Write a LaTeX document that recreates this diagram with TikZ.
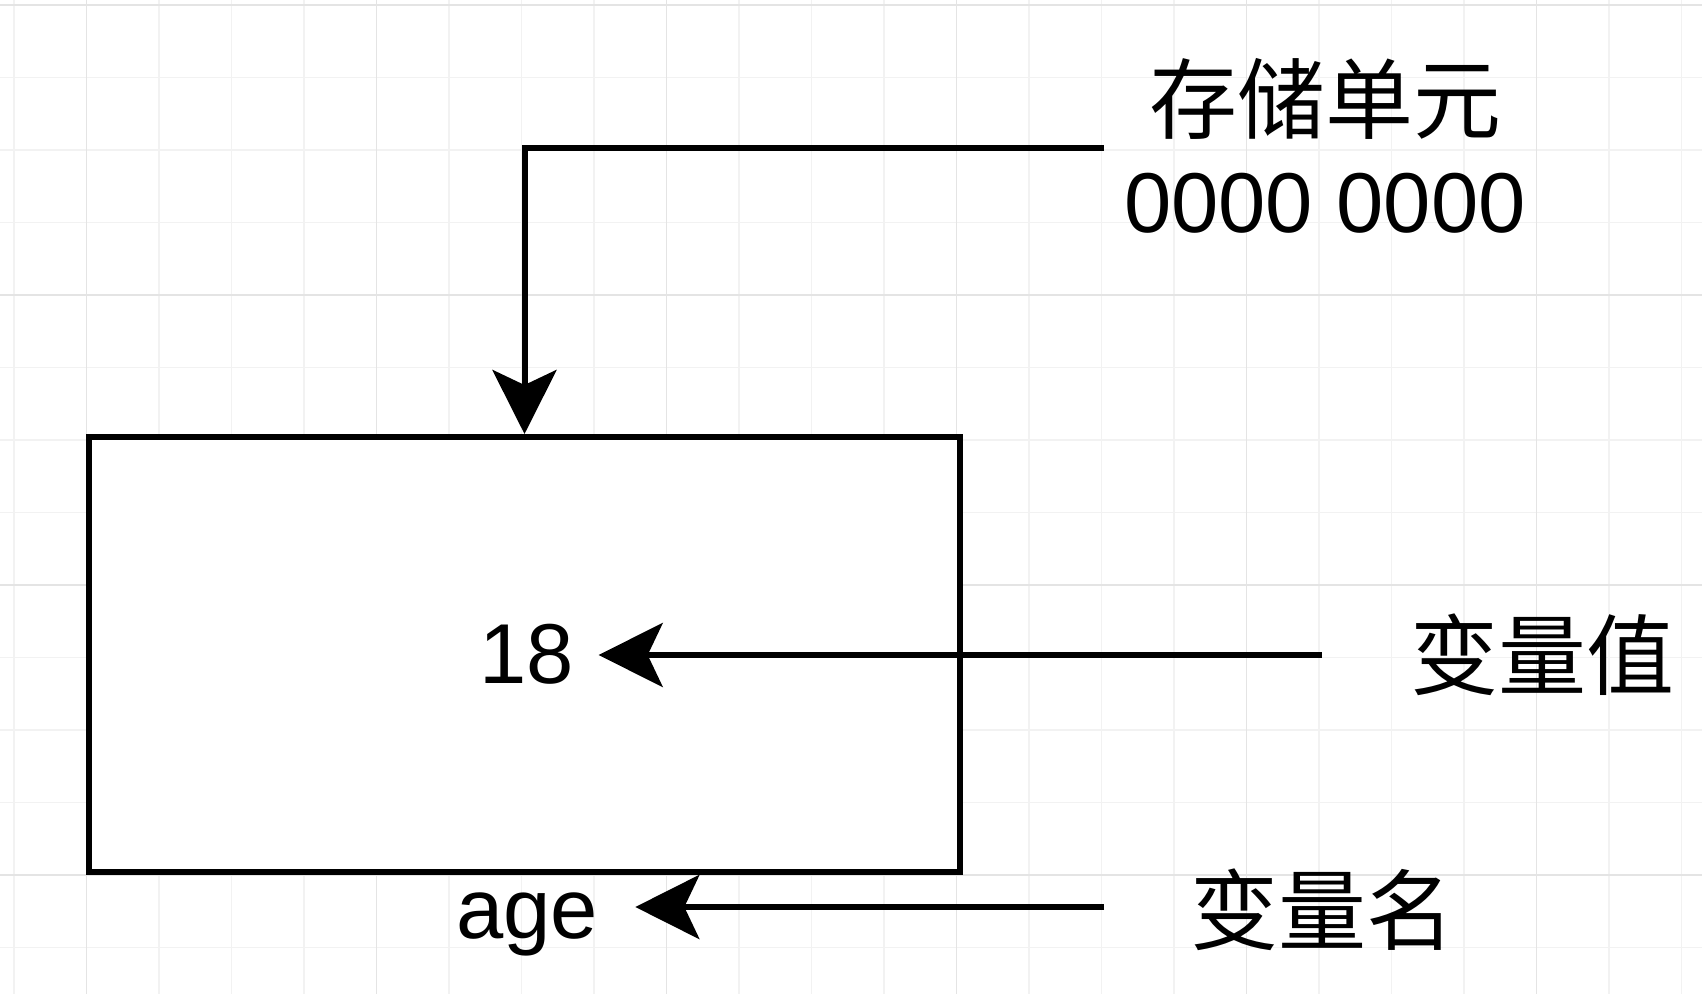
\documentclass[tikz,border=0pt]{standalone}
\usepackage{fontspec}
\setmainfont{Liberation Sans}
\newfontfamily\cjk{Noto Sans CJK SC}
\usetikzlibrary{arrows.meta}
\definecolor{gridminor}{HTML}{F2F2F2}
\definecolor{gridmajor}{HTML}{E4E4E4}
\tikzset{
  latin/.style={font=\fontsize{42.5}{50}\selectfont, inner sep=0pt},
  cjklabel/.style={font=\fontsize{44}{52}\selectfont\cjk, inner sep=0pt},
  membox/.style={draw=black, line width=3pt, fill=white, minimum width=435.5pt, minimum height=217.5pt, inner sep=0pt},
  conn/.style={draw=black, line width=3pt, -{Stealth[length=32pt,width=32pt,inset=7.5pt]}},
}
\begin{document}
\begin{tikzpicture}[x=0.5pt,y=-0.5pt]
\useasboundingbox (0,0) rectangle (1702,994);
\fill[white] (0,0) rectangle (1702,994);
% grid
\foreach \k in {0,...,23}{
  \pgfmathsetmacro{\gx}{14+72.5*\k}
  \draw[gridminor, line width=0.8pt] (\gx,0) -- (\gx,994);
}
\foreach \k in {0,...,13}{
  \pgfmathsetmacro{\gy}{5+72.5*\k}
  \draw[gridminor, line width=0.8pt] (0,\gy) -- (1702,\gy);
}
\foreach \gx in {86.5,376.5,666.5,956.5,1246.5,1536.5}{
  \draw[gridmajor, line width=0.8pt] (\gx,0) -- (\gx,994);
}
\foreach \gy in {5,295,585,875}{
  \draw[gridmajor, line width=0.8pt] (0,\gy) -- (1702,\gy);
}
% memory box
\node[membox] (box) at (524.5,654.5) {};
% texts
\node[cjklabel, anchor=base] (mem1) at (1325,133) {存储单元};
\node[latin, anchor=base] (mem2) at (1325,233) {0000 0000};
\node[latin, anchor=base, inner xsep=12pt] (val) at (527,683) {18};
\node[cjklabel, anchor=base] (vallab) at (1542,688) {变量值};
\node[latin, anchor=base, inner xsep=18.5pt] (name) at (527,938) {age};
\node[cjklabel, anchor=base] (namelab) at (1322.5,943) {变量名};
% connector ends
\coordinate (memstart) at (1104,148);
\coordinate (valstart) at (1322,655);
\coordinate (namestart) at (1104,907);
% connectors
\draw[conn] (memstart) -| (box.north);
\draw[conn] (valstart) -- (valstart -| val.east);
\draw[conn] (namestart) -- (namestart -| name.east);
\end{tikzpicture}
\end{document}
